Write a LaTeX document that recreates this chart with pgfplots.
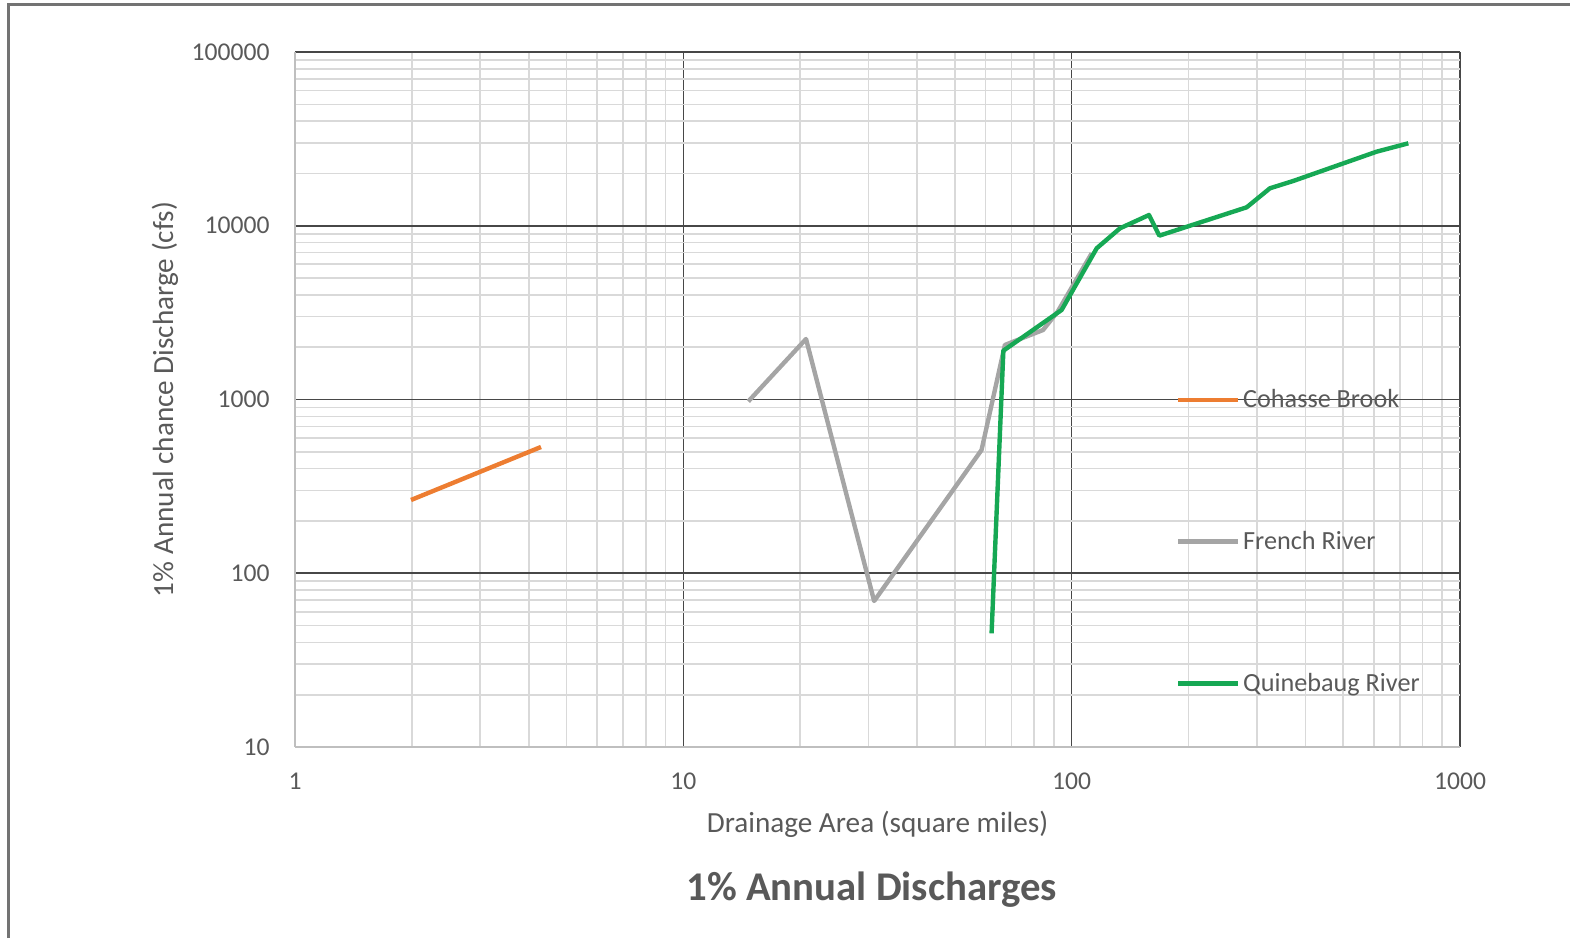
\documentclass[border=0pt]{standalone}
\usepackage{pgfplots}
\pgfplotsset{compat=1.18}
\usepackage{fontspec}
\setmainfont{Carlito}
\definecolor{txt}{RGB}{89,89,89}
\definecolor{cohasse}{RGB}{237,125,49}
\definecolor{french}{RGB}{165,165,165}
\definecolor{quine}{RGB}{22,168,84}
\begin{document}
\begin{tikzpicture}[x=1pt,y=1pt]
\path[use as bounding box] (0,0) rectangle (785,469);
\draw[line width=1.5pt, color=black!55] (4,0) -- (4,466.5) -- (785,466.5);
\begin{axis}[
  at={(147.5pt,95.5pt)}, anchor=south west,
  scale only axis, width=582.5pt, height=347.5pt,
  xmode=log, ymode=log,
  xmin=1, xmax=1000, ymin=10, ymax=100000,
  xtick={1,10,100,1000}, xticklabels={1,10,100,1000},
  ytick={10,100,1000,10000,100000}, yticklabels={10,100,1000,10000,100000},
  minor xtick={2,3,4,5,6,7,8,9,20,30,40,50,60,70,80,90,200,300,400,500,600,700,800,900},
  minor ytick={20,30,40,50,60,70,80,90,200,300,400,500,600,700,800,900,2000,3000,4000,5000,6000,7000,8000,9000,20000,30000,40000,50000,60000,70000,80000,90000},
  grid=both,
  major grid style={draw=black!72, line width=0.8pt},
  minor grid style={draw=black!15, line width=0.8pt},
  major tick length=0pt, minor tick length=0pt,
  axis x line*=bottom, axis y line*=left,
  axis line style={draw=black!25, line width=1.2pt, -},
  tick label style={font=\fontsize{12.8}{14}\selectfont, text=txt},
  xticklabel style={anchor=center, yshift=-17pt},
  yticklabel style={anchor=east, inner sep=0pt, xshift=-12.5pt},
  xlabel={Drainage Area (square miles)},
  ylabel={1\% Annual chance Discharge (cfs)},
  every axis x label/.style={at={(axis description cs:0.5,-0.1108)}, anchor=center, font=\fontsize{14.6}{16}\selectfont, text=txt},
  every axis y label/.style={at={(axis description cs:-0.1116,0.5)}, anchor=center, rotate=90, font=\fontsize{14.6}{16}\selectfont, text=txt},
  title={\textbf{1\% Annual Discharges}},
  every axis title/.style={at={(axis description cs:0.495,-0.2058)}, anchor=center, font=\fontsize{20.4}{22}\selectfont, text=txt},
  legend style={at={(axis cs:185,152)}, anchor=west, draw=none, fill=none,
    font=\fontsize{13.1}{14}\selectfont, text=txt, row sep=56.3pt, inner sep=0pt,
    nodes={inner xsep=1.5pt}},
  legend cell align=left,
  legend image code/.code={\draw[#1] (0pt,0pt) -- (30pt,0pt);},
  every axis plot/.append style={line width=2.2pt, line join=round},
]
\addplot[cohasse] coordinates {(1.99,264) (4.30,533)};
\addlegendentry{Cohasse Brook}
\addplot[french] coordinates {
(14.7,975) (20.7,2230) (31.0,69.2) (58.6,512) (67.3,2060) (84.4,2512) (92,3200) (112.6,6940)};
\addlegendentry{French River}
\addplot[quine] coordinates {
(62.2,45.1) (66.7,1910) (94.2,3275) (116,7420) (133.2,9670) (158.2,11530) (168.2,8770)
(282.3,12770) (324,16430) (372,18100) (610,26690) (736,29820)};
\addlegendentry{Quinebaug River}
\end{axis}
\end{tikzpicture}
\end{document}
